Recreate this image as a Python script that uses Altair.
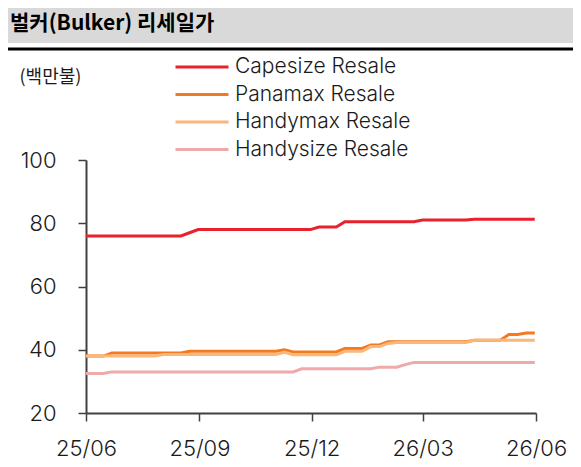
import altair as alt
import pandas as pd

# weekly observation dates
dates = pd.date_range("2025-06-01", periods=53, freq="7D").strftime("%Y-%m-%d").tolist()

series_names = ["Capesize Resale", "Panamax Resale", "Handymax Resale", "Handysize Resale"]
series_colors = ["#e8212d", "#f47a20", "#fbb67a", "#f0a9a9"]

capesize = [
    76, 76, 76, 76, 76, 76, 76, 76, 76, 76,
    76, 76, 77, 78, 78, 78, 78, 78, 78, 78,
    78, 78, 78, 78, 78, 78, 78, 78.8, 78.8, 78.8,
    80.5, 80.5, 80.5, 80.5, 80.5, 80.5, 80.5, 80.5, 80.5, 81,
    81, 81, 81, 81, 81, 81.3, 81.3, 81.3, 81.3, 81.3,
    81.3, 81.3, 81.3,
]
panamax = [
    38, 38, 38, 39, 39, 39, 39, 39, 39, 39,
    39, 39, 39.5, 39.5, 39.5, 39.5, 39.5, 39.5, 39.5, 39.5,
    39.5, 39.5, 39.5, 40, 39.3, 39.3, 39.3, 39.3, 39.3, 39.3,
    40.4, 40.4, 40.4, 41.5, 41.5, 42.5, 42.5, 42.5, 42.5, 42.5,
    42.5, 42.5, 42.5, 42.5, 42.5, 43, 43, 43, 43, 44.8,
    44.8, 45.3, 45.3,
]
handymax = [
    38, 38, 38, 38, 38, 38, 38, 38, 38, 38.5,
    38.5, 38.5, 38.5, 38.5, 38.5, 38.5, 38.5, 38.5, 38.5, 38.5,
    38.5, 38.5, 38.5, 39.2, 38.4, 38.4, 38.4, 38.4, 38.4, 38.4,
    39.5, 39.5, 39.5, 41, 41, 42, 42.3, 42.3, 42.3, 42.3,
    42.3, 42.3, 42.3, 42.3, 42.3, 43, 43, 43, 43, 43,
    43, 43, 43,
]
handysize = [
    32.5, 32.5, 32.5, 33, 33, 33, 33, 33, 33, 33,
    33, 33, 33, 33, 33, 33, 33, 33, 33, 33,
    33, 33, 33, 33, 33, 34, 34, 34, 34, 34,
    34, 34, 34, 34, 34.5, 34.5, 34.5, 35.3, 36, 36,
    36, 36, 36, 36, 36, 36, 36, 36, 36, 36,
    36, 36, 36,
]

y_ticks = [20, 40, 60, 80, 100]

rows = []
for name, vals in zip(series_names, [capesize, panamax, handymax, handysize]):
    for d, v in zip(dates, vals):
        rows.append({"date": d, "series": name, "value": v})
df = pd.DataFrame(rows)

FONT = "Inter"
KFONT = "Noto Sans CJK KR"
AXIS_COLOR = "#404040"
TEXT_COLOR = "#1a1a1a"

x_ticks = [
    alt.DateTime(year=2025, month=6, date=1, utc=True),
    alt.DateTime(year=2025, month=9, date=1, utc=True),
    alt.DateTime(year=2025, month=12, date=1, utc=True),
    alt.DateTime(year=2026, month=3, date=1, utc=True),
    alt.DateTime(year=2026, month=6, date=1, utc=True),
]

deco = alt.Data(values=[{"k": 1}])

bar = alt.Chart(deco).mark_rect(color="#d9d9d9").encode(
    x=alt.value(-78), x2=alt.value(487), y=alt.value(-152), y2=alt.value(-117)
)
rule = alt.Chart(deco).mark_rule(color="#000000", strokeWidth=3).encode(
    x=alt.value(-78), x2=alt.value(487), y=alt.value(-111)
)
title = alt.Chart(deco).mark_text(
    text="벌커(Bulker) 리세일가", font=KFONT, fontSize=21, fontWeight="bold",
    align="left", baseline="middle", color="#000000"
).encode(x=alt.value(-76), y=alt.value(-136))

lines = alt.Chart(df).mark_line(strokeWidth=3).encode(
    x=alt.X(
        "date:T",
        scale=alt.Scale(type="utc", domain=[x_ticks[0], x_ticks[-1]]),
        axis=alt.Axis(
            values=x_ticks, format="%y/%m", title=None, labelFont=FONT,
            labelFontSize=22, labelFontWeight=300, labelColor=TEXT_COLOR, labelPadding=17,
            tickSize=8, tickColor=AXIS_COLOR, tickWidth=1.5,
            domainColor=AXIS_COLOR, domainWidth=2, grid=False, labelFlush=False,
        ),
    ),
    y=alt.Y(
        "value:Q",
        scale=alt.Scale(domain=[20, 100]),
        axis=alt.Axis(
            values=y_ticks, title="(백만불)", titleAngle=0, titleX=-67, titleY=-83,
            titleAlign="left", titleBaseline="middle", titleFont=KFONT,
            titleFontSize=18, titleFontWeight="normal", titleColor=TEXT_COLOR,
            labelFont=FONT, labelFontSize=22, labelFontWeight=300, labelColor=TEXT_COLOR,
            labelPadding=22, tickSize=8, tickColor=AXIS_COLOR, tickWidth=1.5,
            domainColor=AXIS_COLOR, domainWidth=2, grid=False,
        ),
    ),
    color=alt.Color(
        "series:N",
        scale=alt.Scale(domain=series_names, range=series_colors),
        legend=alt.Legend(
            title=None, orient="none", legendX=88, legendY=-104,
            symbolType="stroke", symbolSize=2809, symbolStrokeWidth=3,
            clipHeight=22,
            labelFont=FONT, labelFontSize=21, labelFontWeight=300, labelColor=TEXT_COLOR,
            labelOffset=5, rowPadding=5.5, padding=0, labelLimit=400,
        ),
    ),
)

chart = alt.layer(bar, rule, title, lines).properties(
    width=450,
    height=253,
    padding={"left": 78, "top": 152, "right": 37, "bottom": 47},
    autosize=alt.AutoSizeParams(type="none"),
).configure_view(stroke=None)

chart.save("out.html", embed_options={"renderer": "svg", "actions": False})
